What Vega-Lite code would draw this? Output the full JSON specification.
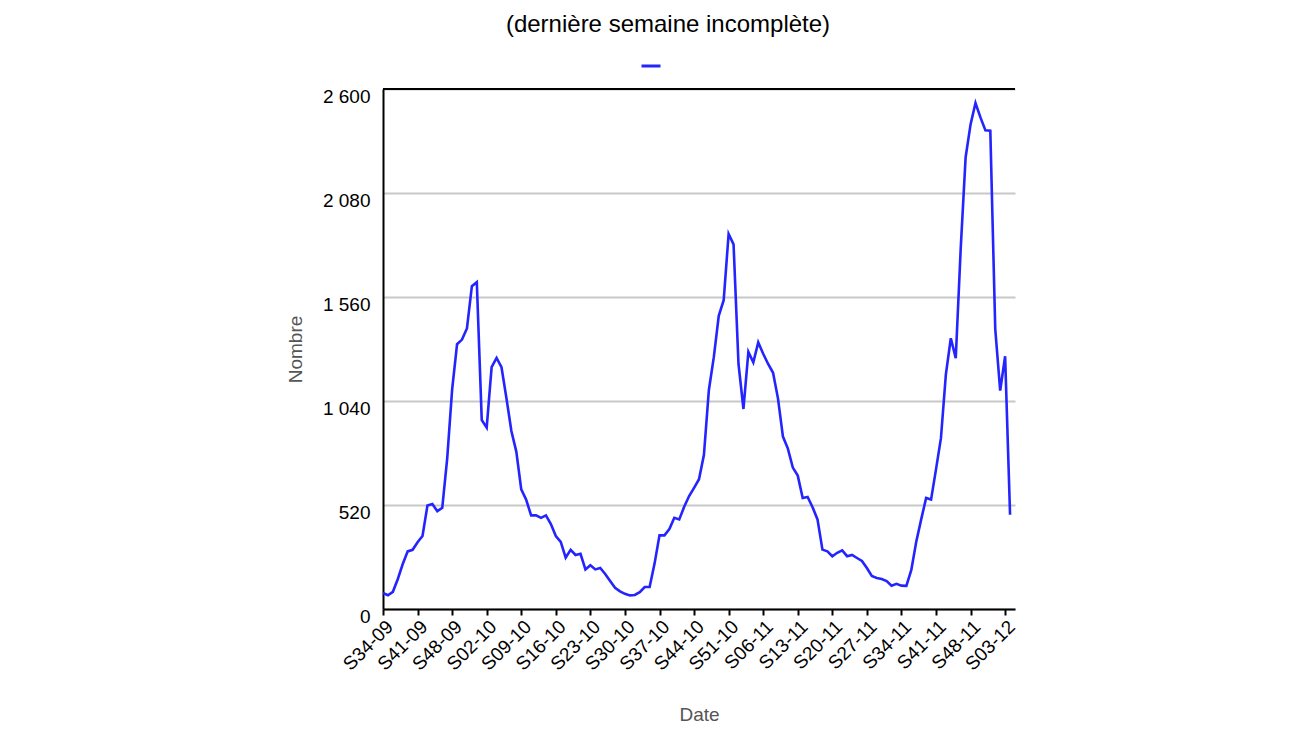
{
  "$schema": "https://vega.github.io/schema/vega-lite/v6.json",
  "width": 632,
  "height": 520,
  "autosize": {"type": "none"},
  "padding": {"left": 383, "top": 89, "right": 297, "bottom": 126},
  "background": "white",
  "title": {"text": "(dernière semaine incomplète)", "font": "Liberation Sans", "fontSize": 24, "fontWeight": "normal", "color": "black", "anchor": "middle", "dx": -31, "offset": 18},
  "data": {"values": [
    {"semaine": "S34-09", "n": 0, "nombre": 80},
    {"semaine": "S35-09", "n": 1, "nombre": 69},
    {"semaine": "S36-09", "n": 2, "nombre": 86},
    {"semaine": "S37-09", "n": 3, "nombre": 150},
    {"semaine": "S38-09", "n": 4, "nombre": 225},
    {"semaine": "S39-09", "n": 5, "nombre": 288},
    {"semaine": "S40-09", "n": 6, "nombre": 296},
    {"semaine": "S41-09", "n": 7, "nombre": 334},
    {"semaine": "S42-09", "n": 8, "nombre": 365},
    {"semaine": "S43-09", "n": 9, "nombre": 517},
    {"semaine": "S44-09", "n": 10, "nombre": 525},
    {"semaine": "S45-09", "n": 11, "nombre": 489},
    {"semaine": "S46-09", "n": 12, "nombre": 506},
    {"semaine": "S47-09", "n": 13, "nombre": 752},
    {"semaine": "S48-09", "n": 14, "nombre": 1097},
    {"semaine": "S49-09", "n": 15, "nombre": 1324},
    {"semaine": "S50-09", "n": 16, "nombre": 1347},
    {"semaine": "S51-09", "n": 17, "nombre": 1403},
    {"semaine": "S52-09", "n": 18, "nombre": 1614},
    {"semaine": "S53-09", "n": 19, "nombre": 1634},
    {"semaine": "S01-10", "n": 20, "nombre": 945},
    {"semaine": "S02-10", "n": 21, "nombre": 907},
    {"semaine": "S03-10", "n": 22, "nombre": 1209},
    {"semaine": "S04-10", "n": 23, "nombre": 1255},
    {"semaine": "S05-10", "n": 24, "nombre": 1209},
    {"semaine": "S06-10", "n": 25, "nombre": 1054},
    {"semaine": "S07-10", "n": 26, "nombre": 890},
    {"semaine": "S08-10", "n": 27, "nombre": 787},
    {"semaine": "S09-10", "n": 28, "nombre": 598},
    {"semaine": "S10-10", "n": 29, "nombre": 546},
    {"semaine": "S11-10", "n": 30, "nombre": 468},
    {"semaine": "S12-10", "n": 31, "nombre": 468},
    {"semaine": "S13-10", "n": 32, "nombre": 456},
    {"semaine": "S14-10", "n": 33, "nombre": 468},
    {"semaine": "S15-10", "n": 34, "nombre": 425},
    {"semaine": "S16-10", "n": 35, "nombre": 365},
    {"semaine": "S17-10", "n": 36, "nombre": 336},
    {"semaine": "S18-10", "n": 37, "nombre": 257},
    {"semaine": "S19-10", "n": 38, "nombre": 296},
    {"semaine": "S20-10", "n": 39, "nombre": 270},
    {"semaine": "S21-10", "n": 40, "nombre": 276},
    {"semaine": "S22-10", "n": 41, "nombre": 198},
    {"semaine": "S23-10", "n": 42, "nombre": 219},
    {"semaine": "S24-10", "n": 43, "nombre": 198},
    {"semaine": "S25-10", "n": 44, "nombre": 205},
    {"semaine": "S26-10", "n": 45, "nombre": 175},
    {"semaine": "S27-10", "n": 46, "nombre": 140},
    {"semaine": "S28-10", "n": 47, "nombre": 106},
    {"semaine": "S29-10", "n": 48, "nombre": 88},
    {"semaine": "S30-10", "n": 49, "nombre": 76},
    {"semaine": "S31-10", "n": 50, "nombre": 68},
    {"semaine": "S32-10", "n": 51, "nombre": 70},
    {"semaine": "S33-10", "n": 52, "nombre": 84},
    {"semaine": "S34-10", "n": 53, "nombre": 110},
    {"semaine": "S35-10", "n": 54, "nombre": 110},
    {"semaine": "S36-10", "n": 55, "nombre": 227},
    {"semaine": "S37-10", "n": 56, "nombre": 368},
    {"semaine": "S38-10", "n": 57, "nombre": 368},
    {"semaine": "S39-10", "n": 58, "nombre": 400},
    {"semaine": "S40-10", "n": 59, "nombre": 456},
    {"semaine": "S41-10", "n": 60, "nombre": 448},
    {"semaine": "S42-10", "n": 61, "nombre": 511},
    {"semaine": "S43-10", "n": 62, "nombre": 565},
    {"semaine": "S44-10", "n": 63, "nombre": 606},
    {"semaine": "S45-10", "n": 64, "nombre": 649},
    {"semaine": "S46-10", "n": 65, "nombre": 771},
    {"semaine": "S47-10", "n": 66, "nombre": 1095},
    {"semaine": "S48-10", "n": 67, "nombre": 1259},
    {"semaine": "S49-10", "n": 68, "nombre": 1466},
    {"semaine": "S50-10", "n": 69, "nombre": 1544},
    {"semaine": "S51-10", "n": 70, "nombre": 1875},
    {"semaine": "S52-10", "n": 71, "nombre": 1823},
    {"semaine": "S01-11", "n": 72, "nombre": 1225},
    {"semaine": "S02-11", "n": 73, "nombre": 1000},
    {"semaine": "S03-11", "n": 74, "nombre": 1285},
    {"semaine": "S04-11", "n": 75, "nombre": 1233},
    {"semaine": "S05-11", "n": 76, "nombre": 1333},
    {"semaine": "S06-11", "n": 77, "nombre": 1276},
    {"semaine": "S07-11", "n": 78, "nombre": 1225},
    {"semaine": "S08-11", "n": 79, "nombre": 1181},
    {"semaine": "S09-11", "n": 80, "nombre": 1052},
    {"semaine": "S10-11", "n": 81, "nombre": 862},
    {"semaine": "S11-11", "n": 82, "nombre": 802},
    {"semaine": "S12-11", "n": 83, "nombre": 707},
    {"semaine": "S13-11", "n": 84, "nombre": 667},
    {"semaine": "S14-11", "n": 85, "nombre": 555},
    {"semaine": "S15-11", "n": 86, "nombre": 560},
    {"semaine": "S16-11", "n": 87, "nombre": 509},
    {"semaine": "S17-11", "n": 88, "nombre": 448},
    {"semaine": "S18-11", "n": 89, "nombre": 297},
    {"semaine": "S19-11", "n": 90, "nombre": 288},
    {"semaine": "S20-11", "n": 91, "nombre": 264},
    {"semaine": "S21-11", "n": 92, "nombre": 281},
    {"semaine": "S22-11", "n": 93, "nombre": 293},
    {"semaine": "S23-11", "n": 94, "nombre": 264},
    {"semaine": "S24-11", "n": 95, "nombre": 270},
    {"semaine": "S25-11", "n": 96, "nombre": 255},
    {"semaine": "S26-11", "n": 97, "nombre": 240},
    {"semaine": "S27-11", "n": 98, "nombre": 205},
    {"semaine": "S28-11", "n": 99, "nombre": 165},
    {"semaine": "S29-11", "n": 100, "nombre": 155},
    {"semaine": "S30-11", "n": 101, "nombre": 150},
    {"semaine": "S31-11", "n": 102, "nombre": 140},
    {"semaine": "S32-11", "n": 103, "nombre": 116},
    {"semaine": "S33-11", "n": 104, "nombre": 126},
    {"semaine": "S34-11", "n": 105, "nombre": 117},
    {"semaine": "S35-11", "n": 106, "nombre": 116},
    {"semaine": "S36-11", "n": 107, "nombre": 195},
    {"semaine": "S37-11", "n": 108, "nombre": 336},
    {"semaine": "S38-11", "n": 109, "nombre": 448},
    {"semaine": "S39-11", "n": 110, "nombre": 555},
    {"semaine": "S40-11", "n": 111, "nombre": 547},
    {"semaine": "S41-11", "n": 112, "nombre": 698},
    {"semaine": "S42-11", "n": 113, "nombre": 854},
    {"semaine": "S43-11", "n": 114, "nombre": 1173},
    {"semaine": "S44-11", "n": 115, "nombre": 1354},
    {"semaine": "S45-11", "n": 116, "nombre": 1254},
    {"semaine": "S46-11", "n": 117, "nombre": 1800},
    {"semaine": "S47-11", "n": 118, "nombre": 2259},
    {"semaine": "S48-11", "n": 119, "nombre": 2423},
    {"semaine": "S49-11", "n": 120, "nombre": 2530},
    {"semaine": "S50-11", "n": 121, "nombre": 2458},
    {"semaine": "S51-11", "n": 122, "nombre": 2394},
    {"semaine": "S52-11", "n": 123, "nombre": 2392},
    {"semaine": "S01-12", "n": 124, "nombre": 1400},
    {"semaine": "S02-12", "n": 125, "nombre": 1092},
    {"semaine": "S03-12", "n": 126, "nombre": 1264},
    {"semaine": "S04-12", "n": 127, "nombre": 471}
  ]},
  "layer": [
    {
      "mark": {"type": "line", "strokeWidth": 2.6, "interpolate": "linear"},
      "encoding": {
        "x": {
          "field": "n", "type": "quantitative", "title": "Date",
          "scale": {"domain": [0, 128], "nice": false, "zero": false},
          "axis": {
            "values": [0, 7, 14, 21, 28, 35, 42, 49, 56, 63, 70, 77, 84, 91, 98, 105, 112, 119, 126],
            "labelExpr": "['S34-09','S41-09','S48-09','S02-10','S09-10','S16-10','S23-10','S30-10','S37-10','S44-10','S51-10','S06-11','S13-11','S20-11','S27-11','S34-11','S41-11','S48-11','S03-12'][round(datum.value/7)]",
            "labelAngle": -45, "labelAlign": "right", "labelBaseline": "top",
            "labelFont": "Liberation Sans", "labelFontSize": 19, "labelColor": "black",
            "labelOverlap": false, "labelFlush": false, "labelBound": false, "labelPadding": 2,
            "tickColor": "black", "tickWidth": 2, "tickSize": 6,
            "domainColor": "black", "domainWidth": 2, "grid": false,
            "titleFont": "Liberation Sans", "titleFontSize": 19, "titleFontWeight": "normal", "titleColor": "#555555", "titlePadding": 32
          }
        },
        "y": {
          "field": "nombre", "type": "quantitative", "title": "Nombre",
          "scale": {"domain": [0, 2600], "nice": false},
          "axis": {
            "values": [0, 520, 1040, 1560, 2080, 2600],
            "labelExpr": "replace(format(datum.value, ','), ',', ' ')",
            "ticks": false, "labelPadding": 13, "labelBaseline": "middle", "labelOffset": 7,
            "labelFont": "Liberation Sans", "labelFontSize": 19, "labelColor": "black",
            "labelOverlap": false, "labelFlush": false, "labelBound": false,
            "grid": true, "gridColor": "#c8c8c8", "gridWidth": 2,
            "domainColor": "black", "domainWidth": 2,
            "titleFont": "Liberation Sans", "titleFontSize": 19, "titleFontWeight": "normal", "titleColor": "#555555", "titlePadding": 17
          }
        },
        "color": {
          "datum": "Nombre",
          "scale": {"range": ["#2424ff"]},
          "legend": {"orient": "none", "legendX": 257, "legendY": -34, "title": null, "labelExpr": "''", "symbolType": "stroke", "symbolSize": 361, "symbolStrokeWidth": 3, "padding": 0, "labelFontSize": 1}
        }
      }
    },
    {
      "mark": {"type": "rule", "color": "black", "strokeWidth": 2},
      "encoding": {"y": {"datum": 2600}}
    }
  ],
  "config": {"view": {"stroke": null}}
}
